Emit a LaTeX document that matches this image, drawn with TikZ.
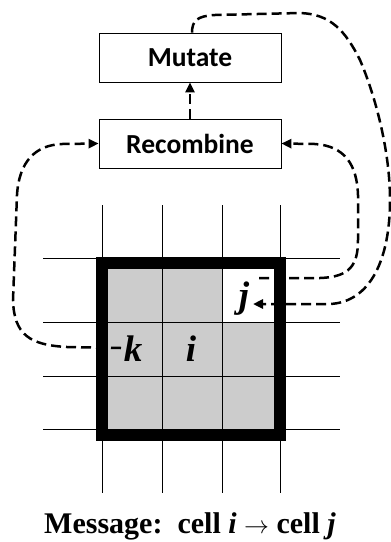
\documentclass[tikz,border=0pt]{standalone}
\usepackage{fontspec}
\setmainfont{Liberation Serif}
\newfontfamily\boxfont{Carlito}
\usetikzlibrary{arrows.meta}
\tikzset{
  stagebox/.style={draw, line width=0.8pt, minimum width=182pt, minimum height=49pt,
    inner sep=0pt, font=\boxfont\bfseries\fontsize{27.5}{27.5}\selectfont},
  gridline/.style={line width=0.8pt},
  flow/.style={line width=2.5pt, dash pattern=on 10pt off 5pt,
    -{Triangle[length=10pt,width=9pt]}},
  celllabel/.style={font=\bfseries\itshape\fontsize{37}{37}\selectfont, inner sep=0pt, anchor=base},
}
\begin{document}
\begin{tikzpicture}[x=1pt,y=-1pt]
\useasboundingbox (0,0) rectangle (391,542);

% process boxes
\node[stagebox] (mut) at (190,57.5) {Mutate};
\node[stagebox] (rec) at (190,143.5) {Recombine};

% neighbourhood: shaded cells, the white cell j
\fill[black!20] (108,268) rectangle (274,429);
\fill[white] (222,268) rectangle (274,322);

% grid lines
\foreach \gx in {102,162,222,280}
  \draw[gridline] (\gx,205) -- (\gx,493);
\foreach \gy in {258,322,376,429}
  \draw[gridline] (43,\gy) -- (340,\gy);

% thick border of the neighbourhood
\draw[line width=12pt] (102,262.5) rectangle (280,435);

% cell labels
\node[celllabel] (k) at (133,361.5) {k};
\node[celllabel] (i) at (191,361.5) {i};
\node[celllabel] (j) at (244,307.5) {j};
\coordinate (jout) at (259,278);
\coordinate (jin) at (253,304);
\coordinate (kout) at (121,348);

% message flows
\draw[flow] (rec.north) -- (mut.south);
\draw[flow] (kout) -- (67,347) .. controls (30,345) and (14,335) .. (13,300)
  -- (17,195) .. controls (19,162) and (35,145) .. (62,144) -- (rec.west);
\draw[flow] (jout) -- (320,278) .. controls (350,277) and (358,265) .. (358,240)
  -- (358,195) .. controls (357,165) and (345,146) .. (315,144) -- (rec.east);
\draw[flow] ([xshift=2pt]mut.north) .. controls (192,20) and (198,16) .. (215,15)
  -- (300,13) .. controls (330,14) and (345,30) .. (360,60)
  .. controls (375,95) and (390,150) .. (390,200)
  .. controls (390,260) and (370,302) .. (330,304) -- (jin);

% caption
\node[anchor=base, inner sep=0pt, font=\bfseries\fontsize{30}{30}\selectfont] (cap) at (190,533)
  {Message:\ \ cell \textit{i} $\rightarrow$ cell \textit{j}};
\end{tikzpicture}
\end{document}
